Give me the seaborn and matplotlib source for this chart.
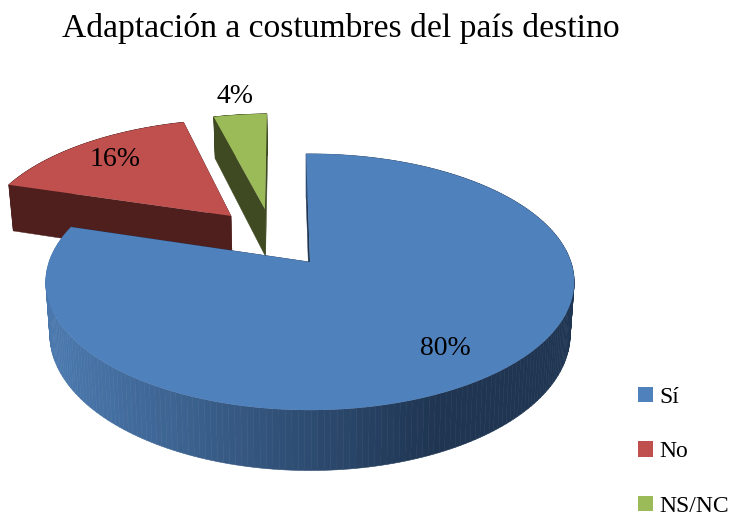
import numpy as np
import seaborn as sns
import matplotlib.pyplot as plt
from matplotlib.collections import PolyCollection
from matplotlib.patches import Patch

title = "Adaptación a costumbres del país destino"
categories = ["Sí", "No", "NS/NC"]
values = [80, 16, 4]

face_colors = ["#4f81bd", "#c0504d", "#9bbb59"]
wall_colors = ["#1f3552", "#4f1f1e", "#3f4a22"]

# layout of the fake 3d pie, in pixels
CX, CY = 310, 262
R, A, B = 261, 125, 0.156
DEPTH = 51
SHRINK = 0.015
START = -1.0
explode = [(0, 0), (-0.321, -0.391), (-0.185, -0.454)]
label_r = [0.78, 0.77, 1.23]


def project(u, v, h=0.0):
    w = 1 / (1 - B * v)
    return CX + R * u * w * (1 - SHRINK * h), CY + A * v * w + DEPTH * w * h


def disc(ang, r=1.0, off=(0, 0)):
    a = np.radians(ang)
    return off[0] + r * np.sin(a), off[1] - r * np.cos(a)


sns.set_theme(style="white")
plt.rcParams["font.family"] = ["Liberation Serif", "DejaVu Serif"]

fig = plt.figure(figsize=(7.37, 5.17), dpi=100)
ax = fig.add_axes([0, 0, 1, 1])
ax.set_xlim(0, 737)
ax.set_ylim(517, 0)
ax.axis("off")

bounds = START + np.cumsum([0] + values) * 3.6
wall_cmap = sns.blend_palette(["#4a78ad", "#1f3552"], as_cmap=True)

# back slices first so the big one sits on top
for i in [2, 1, 0]:
    off = explode[i]
    a0, a1 = bounds[i], bounds[i + 1]
    arc = np.linspace(a0, a1, 240)
    au, av = disc(arc, off=off)

    # straight walls
    for ang in (a0, a1):
        eu, ev = disc(ang, off=off)
        px = [project(off[0], off[1]), project(eu, ev), project(eu, ev, 1), project(off[0], off[1], 1)]
        ax.fill(*zip(*px), color=wall_colors[i], lw=0.3)

    # outer wall, shaded from left to right
    tx, ty = project(au, av)
    bx, by = project(au, av, 1)
    quads = [[(tx[k], ty[k]), (tx[k + 1], ty[k + 1]), (bx[k + 1], by[k + 1]), (bx[k], by[k])]
             for k in range(len(arc) - 1)]
    if i == 0:
        shade = wall_cmap(np.clip((tx[:-1] - 60) / 380, 0, 1))
    else:
        shade = wall_colors[i]
    ax.add_collection(PolyCollection(quads, facecolors=shade, edgecolors=shade, linewidths=0.4))

    # top face
    top_x, top_y = project(np.r_[off[0], au], np.r_[off[1], av])
    ax.fill(top_x, top_y, color=face_colors[i], lw=0)

    lu, lv = disc((a0 + a1) / 2, label_r[i], off)
    lx, ly = project(lu, lv)
    ax.text(lx, ly, f"{values[i]}%", fontsize=20, color="black", ha="center", va="center")

ax.text(341, 29, title, fontsize=24.2, color="black", ha="center", va="center")

handles = [Patch(facecolor=c, edgecolor="none", label=n) for c, n in zip(face_colors, categories)]
ax.legend(handles=handles, loc="lower left", bbox_to_anchor=(638, 517), bbox_transform=ax.transData,
          frameon=False, fontsize=17, borderpad=0, borderaxespad=0, handlelength=0.635,
          handleheight=0.635, handletextpad=0.25, labelspacing=1.42, labelcolor="black")

plt.savefig("out.png", dpi=100)
plt.close("all")
